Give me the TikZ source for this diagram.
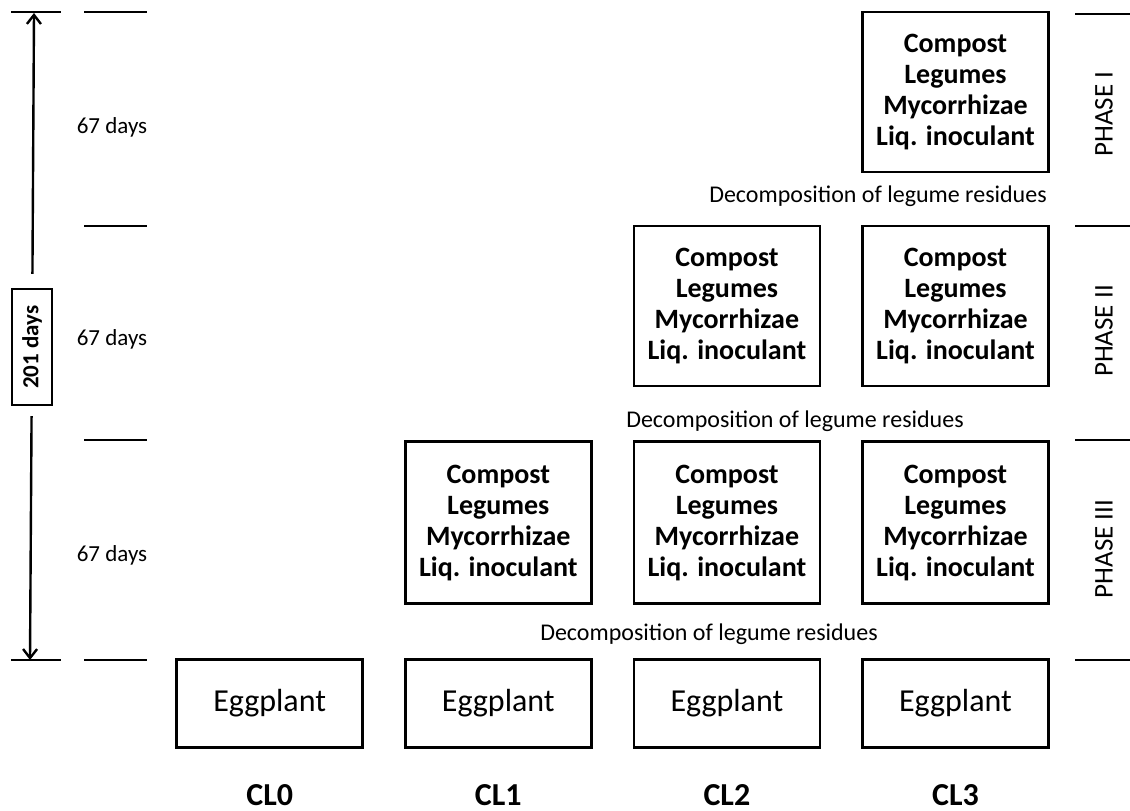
\documentclass[tikz,border=0pt]{standalone}
\usepackage{fontspec}
\setmainfont{Carlito}
\usetikzlibrary{arrows.meta,positioning}

\newcommand\mixtext{Compost\\Legumes\\Mycorrhizae\\Liq. inoculant}

\begin{document}
\begin{tikzpicture}[x=1pt, y=-1pt,
	mixbox/.style={draw, line width=2.6pt, minimum width=186pt, minimum height=160pt, inner sep=0pt, align=center, font=\fontsize{28}{31}\selectfont\bfseries},
	cropbox/.style={draw, line width=2.6pt, minimum width=186pt, minimum height=88pt, inner sep=0pt, font=\fontsize{32}{36}\selectfont},
	decay/.style={font=\fontsize{24}{28}\selectfont},
	days/.style={font=\fontsize{23}{27}\selectfont},
	phase/.style={rotate=90, font=\fontsize{27}{31}\selectfont},
	treat/.style={anchor=base, font=\fontsize{32}{36}\selectfont\bfseries},
	phaseline/.style={line width=2.4pt},
	>={Straight Barb[length=9pt,width=14pt]}]
	\useasboundingbox (0,0) rectangle (1130,811);

	% Treatment boxes
	\node [mixbox] at (955.5,92) (p1c3) {\mixtext};
	\node [mixbox, below=51.5pt of p1c3] (p2c3) {\mixtext};
	\node [mixbox, left=40pt of p2c3] (p2c2) {\mixtext};
	\node [mixbox, minimum height=162pt, below=53pt of p2c3] (p3c3) {\mixtext};
	\node [mixbox, minimum height=162pt, left=40pt of p3c3] (p3c2) {\mixtext};
	\node [mixbox, minimum height=162pt, left=40pt of p3c2] (p3c1) {\mixtext};

	% Eggplant row
	\node [cropbox, below=53pt of p3c3] (egg3) {Eggplant};
	\node [cropbox, left=40pt of egg3] (egg2) {Eggplant};
	\node [cropbox, left=40pt of egg2] (egg1) {Eggplant};
	\node [cropbox, left=40pt of egg1] (egg0) {Eggplant};

	\node [treat] at (egg0.center |- 0,805) (cl0) {CL0};
	\node [treat] at (egg1.center |- 0,805) (cl1) {CL1};
	\node [treat] at (egg2.center |- 0,805) (cl2) {CL2};
	\node [treat] at (egg3.center |- 0,805) (cl3) {CL3};

	% Residues
	\node [decay] at (878,196) (dec1) {Decomposition of legume residues};
	\node [decay] at (795,421) (dec2) {Decomposition of legume residues};
	\node [decay] at (709,634) (dec3) {Decomposition of legume residues};

	% Phase marks
	\draw [phaseline] (11,12) -- (61,12);
	\draw [phaseline] (11,660) -- (61,660);
	\foreach \y in {12,226,440,660} {
		\draw [phaseline] (84,\y) -- (147,\y);
	}
	\foreach \y in {14,226,440,660} {
		\draw [phaseline] (1075,\y) -- (1130,\y);
	}
	\node [phase] at (1104,114) (ph1) {PHASE I};
	\node [phase] at (1104,331) (ph2) {PHASE II};
	\node [phase] at (1104,549) (ph3) {PHASE III};

	\node [days] at (112,127) (d1) {67 days};
	\node [days] at (112,339) (d2) {67 days};
	\node [days] at (112,555) (d3) {67 days};

	% Total duration
	\node [draw, line width=2.4pt, rotate=90, minimum width=116pt, minimum height=40pt, inner sep=0pt, font=\fontsize{23}{27}\selectfont\bfseries] at (32,347) (total) {201 days};
	\coordinate (start) at (34,13);
	\coordinate (end) at (30,660);
	\draw [->, line width=2.4pt, shorten <=14pt] (total) -- (start);
	\draw [->, line width=2.4pt, shorten <=10pt] (total) -- (end);
\end{tikzpicture}
\end{document}
